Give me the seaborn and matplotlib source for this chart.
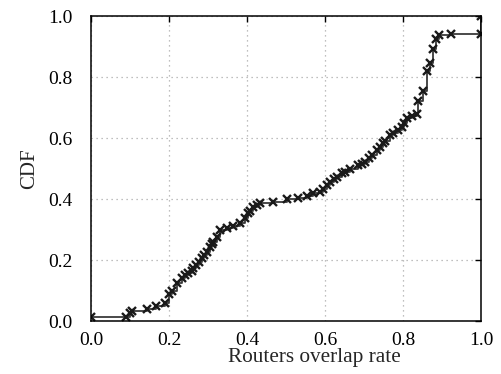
import matplotlib
matplotlib.use("Agg")
import matplotlib.pyplot as plt
import seaborn as sns
import pandas as pd

overlap_rate = [
    0.000, 0.089, 0.100, 0.104, 0.144, 0.166, 0.190, 0.200, 0.208, 0.220,
    0.233, 0.241, 0.250, 0.258, 0.262, 0.270, 0.278, 0.284, 0.290, 0.297,
    0.305, 0.310, 0.314, 0.322, 0.331, 0.348, 0.365, 0.382, 0.395, 0.402,
    0.408, 0.416, 0.425, 0.433, 0.467, 0.502, 0.532, 0.553, 0.570, 0.587,
    0.595, 0.604, 0.613, 0.622, 0.630, 0.643, 0.652, 0.664, 0.685, 0.695,
    0.703, 0.712, 0.720, 0.733, 0.741, 0.748, 0.754, 0.767, 0.775, 0.788,
    0.797, 0.803, 0.810, 0.822, 0.835, 0.839, 0.851, 0.861, 0.869, 0.878,
    0.885, 0.893, 0.922, 1.000, 1.000,
]
cdf = [
    0.012, 0.012, 0.026, 0.034, 0.039, 0.050, 0.060, 0.090, 0.100, 0.125,
    0.140, 0.150, 0.158, 0.163, 0.173, 0.185, 0.195, 0.206, 0.215, 0.227,
    0.244, 0.252, 0.260, 0.276, 0.298, 0.304, 0.310, 0.320, 0.337, 0.355,
    0.362, 0.375, 0.380, 0.386, 0.389, 0.399, 0.402, 0.411, 0.419, 0.424,
    0.432, 0.446, 0.457, 0.465, 0.473, 0.484, 0.490, 0.500, 0.511, 0.516,
    0.522, 0.533, 0.544, 0.561, 0.572, 0.582, 0.591, 0.610, 0.615, 0.626,
    0.637, 0.650, 0.664, 0.672, 0.680, 0.722, 0.754, 0.821, 0.847, 0.893,
    0.924, 0.938, 0.941, 0.941, 1.000,
]
ticks = [0.0, 0.2, 0.4, 0.6, 0.8, 1.0]
tick_labels = ["0.0", "0.2", "0.4", "0.6", "0.8", "1.0"]

df = pd.DataFrame({"x": overlap_rate, "y": cdf})

sns.set_style("white")
plt.rcParams["font.family"] = ["Liberation Serif", "DejaVu Serif"]

fig = plt.figure(figsize=(5.01, 3.74), dpi=100)
ax = fig.add_axes([0.1816, 0.1417, 0.7784, 0.8155])

sns.lineplot(data=df, x="x", y="y", estimator=None, sort=False, ax=ax,
             drawstyle="steps-post", color="#3a3a3a", linewidth=1.3,
             marker="x", markersize=6, markeredgewidth=1.7,
             markeredgecolor="#1a1a1a")

ax.set_xlim(0, 1)
ax.set_ylim(0, 1)
ax.set_xticks(ticks)
ax.set_xticklabels(tick_labels)
ax.set_yticks(ticks)
ax.set_yticklabels(tick_labels)
ax.grid(True, linestyle=(0, (1, 3)), color="#aaaaaa", linewidth=0.9)
ax.tick_params(direction="in", top=True, right=True, length=4, width=1,
               labelsize=14, colors="black")
ax.tick_params(axis="x", pad=8)
ax.tick_params(axis="y", pad=13)
for s in ax.spines.values():
    s.set_color("black")
    s.set_linewidth(1.1)
ax.set_xlabel("Routers overlap rate", fontsize=15.3)
ax.xaxis.set_label_coords(0.574, -0.088)
ax.set_ylabel("CDF", fontsize=15)
ax.yaxis.set_label_coords(-0.133, 0.5)

fig.savefig("out.png", dpi=100)
